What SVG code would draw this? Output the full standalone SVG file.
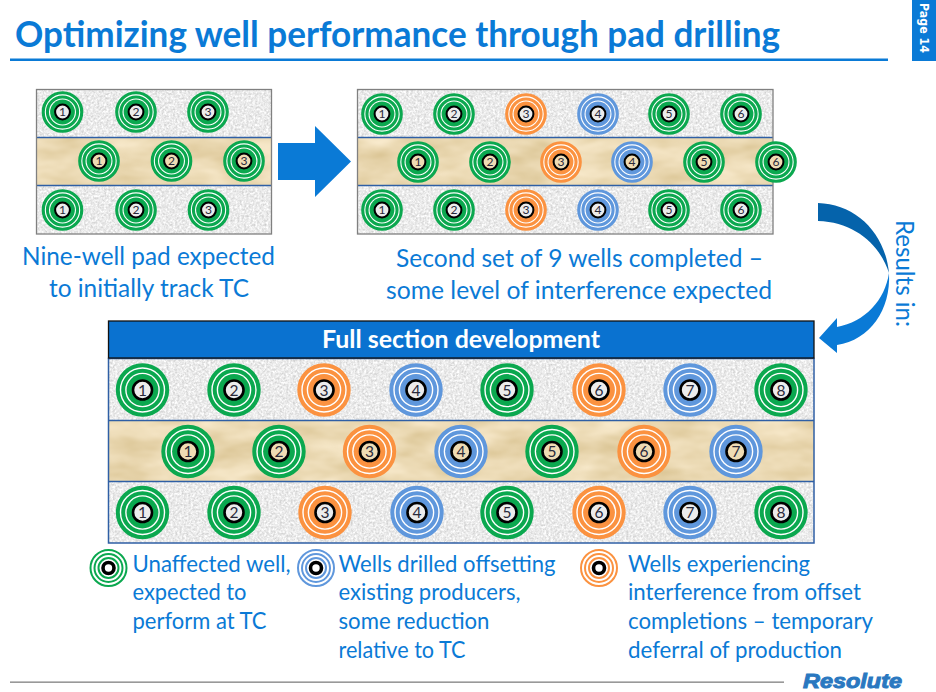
<svg xmlns="http://www.w3.org/2000/svg" xmlns:xlink="http://www.w3.org/1999/xlink" width="936" height="692" viewBox="0 0 936 692">
<style>
text{font-family:Lato,"Liberation Sans",sans-serif}
.b{fill:#0a7ad6}
.t{font-size:25px;fill:#0a7ad6}
.l{font-size:23px;fill:#0a7ad6}
.g{color:#0ba84f}.o{color:#fb9240}.u{color:#5f97dc}
.hs{fill:#ececec;stroke:#000;stroke-width:2.6}
.hd{fill:#efdcb4;stroke:#000;stroke-width:2.6}
.n{font-size:15.500px;fill:#2a2a3a;text-anchor:middle}
.s{filter:url(#granite)}.d{filter:url(#sand)}
.sep{stroke:#2f5fa5;stroke-width:1.4}
</style>
<defs>
<filter id="granite" x="0" y="0" width="100%" height="100%" color-interpolation-filters="sRGB"><feTurbulence type="fractalNoise" baseFrequency=".45" numOctaves="3" seed="4"/><feGaussianBlur stdDeviation=".5"/><feColorMatrix values=".3 0 0 0 .77 .3 0 0 0 .77 .3 0 0 0 .77 0 0 0 0 1"/></filter>
<filter id="sand" x="0" y="0" width="100%" height="100%" color-interpolation-filters="sRGB"><feTurbulence type="fractalNoise" baseFrequency=".02 .05" numOctaves="3" seed="7"/><feColorMatrix values=".16 0 0 0 .84 .2 0 0 0 .75 .3 0 0 0 .55 0 0 0 0 1"/></filter>
<g id="rings"><circle r="24.7" fill="#fff" stroke="currentColor" stroke-width="4"/><circle r="19.3" fill="none" stroke="currentColor" stroke-width="4"/><circle r="15.9" fill="currentColor"/></g>
<g id="lg"><circle r="18" fill="#fff" stroke="currentColor" stroke-width="2"/><circle r="14" fill="none" stroke="currentColor" stroke-width="2"/><circle r="10" fill="none" stroke="currentColor" stroke-width="2"/><circle r="5.500" fill="#fff" stroke="#000" stroke-width="3.600"/></g>
</defs>

<g id="title"><text x="15" y="47" font-size="36" font-weight="700" class="b" textLength="765" lengthAdjust="spacingAndGlyphs">Optimizing well performance through pad drilling</text><rect x="10" y="58.500" width="878" height="2.500" fill="#0a7ad6"/></g>
<g id="page"><rect x="912" y="0" width="24" height="61" fill="#0a7ad6"/><text transform="translate(919.500 3) rotate(90)" style="font-family:'DejaVu Sans',sans-serif" font-size="11.500" font-weight="700" fill="#fff" textLength="50" lengthAdjust="spacingAndGlyphs">Page 14</text></g>

<g id="panel-1">
<rect class="s" x="37" y="90" width="235" height="47"/><rect class="d" x="37" y="138" width="235" height="47"/><rect class="s" x="37" y="186" width="235" height="48"/>
<path class="sep" d="M37 137.500H272M37 185.500H272"/><rect x="36.500" y="89.500" width="235" height="144.500" fill="none" stroke="#808080" stroke-width="1.300"/>
</g>
<g id="panel-2">
<rect class="s" x="358" y="90" width="415" height="47"/><rect class="d" x="358" y="138" width="415" height="47"/><rect class="s" x="358" y="186" width="415" height="48"/>
<path class="sep" d="M358 137.500H773M358 185.500H773"/><rect x="357.500" y="89.500" width="415.500" height="144.500" fill="none" stroke="#808080" stroke-width="1.300"/>
</g>
<g id="panel-3">
<rect class="s" x="108" y="359" width="706" height="61"/><rect class="d" x="108" y="421" width="706" height="60"/><rect class="s" x="108" y="482" width="706" height="61"/>
<path class="sep" d="M108 420.500H814M108 481.500H814"/><rect x="108.500" y="358.500" width="705.500" height="184.500" fill="none" stroke="#2f5fa5" stroke-width="1.500"/>
</g>

<g id="header"><rect x="108.500" y="321" width="705.500" height="37" fill="#0a72d0" stroke="#111" stroke-width="1.300"/><text x="322" y="348" font-size="24" font-weight="700" fill="#fff" textLength="278" lengthAdjust="spacingAndGlyphs">Full section development</text></g>

<g id="p1-wells">
<g transform="translate(62.500 112) scale(.78)" class="g"><use href="#rings"/><circle r="9.500" class="hs"/><text y="5.500" class="n">1</text></g>
<g transform="translate(136 112) scale(.78)" class="g"><use href="#rings"/><circle r="9.500" class="hs"/><text y="5.500" class="n">2</text></g>
<g transform="translate(208 112) scale(.78)" class="g"><use href="#rings"/><circle r="9.500" class="hs"/><text y="5.500" class="n">3</text></g>
<g transform="translate(99 161) scale(.78)" class="g"><use href="#rings"/><circle r="9.500" class="hd"/><text y="5.500" class="n">1</text></g>
<g transform="translate(171.500 161) scale(.78)" class="g"><use href="#rings"/><circle r="9.500" class="hd"/><text y="5.500" class="n">2</text></g>
<g transform="translate(244 161) scale(.78)" class="g"><use href="#rings"/><circle r="9.500" class="hd"/><text y="5.500" class="n">3</text></g>
<g transform="translate(62.500 210) scale(.78)" class="g"><use href="#rings"/><circle r="9.500" class="hs"/><text y="5.500" class="n">1</text></g>
<g transform="translate(136 210) scale(.78)" class="g"><use href="#rings"/><circle r="9.500" class="hs"/><text y="5.500" class="n">2</text></g>
<g transform="translate(208.500 210) scale(.78)" class="g"><use href="#rings"/><circle r="9.500" class="hs"/><text y="5.500" class="n">3</text></g>
</g>

<g id="p2-wells">
<g transform="translate(382 114) scale(.78)" class="g"><use href="#rings"/><circle r="9.500" class="hs"/><text y="5.500" class="n">1</text></g>
<g transform="translate(454 114) scale(.78)" class="g"><use href="#rings"/><circle r="9.500" class="hs"/><text y="5.500" class="n">2</text></g>
<g transform="translate(526 114) scale(.78)" class="o"><use href="#rings"/><circle r="9.500" class="hs"/><text y="5.500" class="n">3</text></g>
<g transform="translate(598 114) scale(.78)" class="u"><use href="#rings"/><circle r="9.500" class="hs"/><text y="5.500" class="n">4</text></g>
<g transform="translate(669 114) scale(.78)" class="g"><use href="#rings"/><circle r="9.500" class="hs"/><text y="5.500" class="n">5</text></g>
<g transform="translate(741 114) scale(.78)" class="g"><use href="#rings"/><circle r="9.500" class="hs"/><text y="5.500" class="n">6</text></g>
<g transform="translate(418 162) scale(.78)" class="g"><use href="#rings"/><circle r="9.500" class="hd"/><text y="5.500" class="n">1</text></g>
<g transform="translate(490 162) scale(.78)" class="g"><use href="#rings"/><circle r="9.500" class="hd"/><text y="5.500" class="n">2</text></g>
<g transform="translate(561 162) scale(.78)" class="o"><use href="#rings"/><circle r="9.500" class="hd"/><text y="5.500" class="n">3</text></g>
<g transform="translate(632 162) scale(.78)" class="u"><use href="#rings"/><circle r="9.500" class="hd"/><text y="5.500" class="n">4</text></g>
<g transform="translate(704 162) scale(.78)" class="g"><use href="#rings"/><circle r="9.500" class="hd"/><text y="5.500" class="n">5</text></g>
<g transform="translate(776 162) scale(.78)" class="g"><use href="#rings"/><circle r="9.500" class="hd"/><text y="5.500" class="n">6</text></g>
<g transform="translate(382 210) scale(.78)" class="g"><use href="#rings"/><circle r="9.500" class="hs"/><text y="5.500" class="n">1</text></g>
<g transform="translate(454 210) scale(.78)" class="g"><use href="#rings"/><circle r="9.500" class="hs"/><text y="5.500" class="n">2</text></g>
<g transform="translate(526 210) scale(.78)" class="o"><use href="#rings"/><circle r="9.500" class="hs"/><text y="5.500" class="n">3</text></g>
<g transform="translate(598 210) scale(.78)" class="u"><use href="#rings"/><circle r="9.500" class="hs"/><text y="5.500" class="n">4</text></g>
<g transform="translate(669 210) scale(.78)" class="g"><use href="#rings"/><circle r="9.500" class="hs"/><text y="5.500" class="n">5</text></g>
<g transform="translate(741 210) scale(.78)" class="g"><use href="#rings"/><circle r="9.500" class="hs"/><text y="5.500" class="n">6</text></g>
</g>

<g id="p3-wells">
<g transform="translate(142.500 390)" class="g"><use href="#rings"/><circle r="9.500" class="hs"/><text y="5.500" class="n">1</text></g>
<g transform="translate(234 390)" class="g"><use href="#rings"/><circle r="9.500" class="hs"/><text y="5.500" class="n">2</text></g>
<g transform="translate(324 390)" class="o"><use href="#rings"/><circle r="9.500" class="hs"/><text y="5.500" class="n">3</text></g>
<g transform="translate(416 390)" class="u"><use href="#rings"/><circle r="9.500" class="hs"/><text y="5.500" class="n">4</text></g>
<g transform="translate(507 390)" class="g"><use href="#rings"/><circle r="9.500" class="hs"/><text y="5.500" class="n">5</text></g>
<g transform="translate(599 390)" class="o"><use href="#rings"/><circle r="9.500" class="hs"/><text y="5.500" class="n">6</text></g>
<g transform="translate(690 390)" class="u"><use href="#rings"/><circle r="9.500" class="hs"/><text y="5.500" class="n">7</text></g>
<g transform="translate(781 390)" class="g"><use href="#rings"/><circle r="9.500" class="hs"/><text y="5.500" class="n">8</text></g>
<g transform="translate(188 451.500)" class="g"><use href="#rings"/><circle r="9.500" class="hd"/><text y="5.500" class="n">1</text></g>
<g transform="translate(279 451.500)" class="g"><use href="#rings"/><circle r="9.500" class="hd"/><text y="5.500" class="n">2</text></g>
<g transform="translate(369.500 451.500)" class="o"><use href="#rings"/><circle r="9.500" class="hd"/><text y="5.500" class="n">3</text></g>
<g transform="translate(461 451.500)" class="u"><use href="#rings"/><circle r="9.500" class="hd"/><text y="5.500" class="n">4</text></g>
<g transform="translate(552 451.500)" class="g"><use href="#rings"/><circle r="9.500" class="hd"/><text y="5.500" class="n">5</text></g>
<g transform="translate(644 451.500)" class="o"><use href="#rings"/><circle r="9.500" class="hd"/><text y="5.500" class="n">6</text></g>
<g transform="translate(736 451.500)" class="u"><use href="#rings"/><circle r="9.500" class="hd"/><text y="5.500" class="n">7</text></g>
<g transform="translate(142.500 512.500)" class="g"><use href="#rings"/><circle r="9.500" class="hs"/><text y="5.500" class="n">1</text></g>
<g transform="translate(234 512.500)" class="g"><use href="#rings"/><circle r="9.500" class="hs"/><text y="5.500" class="n">2</text></g>
<g transform="translate(325 512.500)" class="o"><use href="#rings"/><circle r="9.500" class="hs"/><text y="5.500" class="n">3</text></g>
<g transform="translate(417 512.500)" class="u"><use href="#rings"/><circle r="9.500" class="hs"/><text y="5.500" class="n">4</text></g>
<g transform="translate(507 512.500)" class="g"><use href="#rings"/><circle r="9.500" class="hs"/><text y="5.500" class="n">5</text></g>
<g transform="translate(599 512.500)" class="o"><use href="#rings"/><circle r="9.500" class="hs"/><text y="5.500" class="n">6</text></g>
<g transform="translate(690 512.500)" class="u"><use href="#rings"/><circle r="9.500" class="hs"/><text y="5.500" class="n">7</text></g>
<g transform="translate(781 512.500)" class="g"><use href="#rings"/><circle r="9.500" class="hs"/><text y="5.500" class="n">8</text></g>
</g>

<g id="connectors">
<path d="M278 143H315V126L351 161.500L315 197V180H278Z" fill="#0a7ad6"/>
<path d="M818 203C855 204 885 232 889 273C880 245 855 222 818 221Z" fill="#0563ab"/>
<path d="M889 273C891 310 870 340 837 345V353L819 338L837 318V327C865 322 885 300 889 273Z" fill="#0a7ad6"/>
</g>

<g id="labels">
<text class="t" x="22" y="264.500" textLength="253" lengthAdjust="spacingAndGlyphs">Nine-well pad expected</text>
<text class="t" x="49" y="296.500" textLength="200" lengthAdjust="spacingAndGlyphs">to initially track TC</text>
<text class="t" x="396" y="266.500" textLength="367" lengthAdjust="spacingAndGlyphs">Second set of 9 wells completed –</text>
<text class="t" x="386" y="298.500" textLength="386" lengthAdjust="spacingAndGlyphs">some level of interference expected</text>
<text class="t" transform="translate(896 220) rotate(90)" textLength="107" lengthAdjust="spacingAndGlyphs">Results in:</text>
</g>

<g id="legend-unaffected"><use href="#lg" x="108.500" y="568" class="g"/>
<text class="l" x="132.500" y="572" textLength="158" lengthAdjust="spacingAndGlyphs">Unaffected well,</text>
<text class="l" x="132.500" y="600" textLength="114" lengthAdjust="spacingAndGlyphs">expected to</text>
<text class="l" x="132.500" y="629" textLength="134" lengthAdjust="spacingAndGlyphs">perform at TC</text></g>
<g id="legend-offset"><use href="#lg" x="316" y="568" class="u"/>
<text class="l" x="338.500" y="572" textLength="217" lengthAdjust="spacingAndGlyphs">Wells drilled offsetting</text>
<text class="l" x="338.500" y="600" textLength="182" lengthAdjust="spacingAndGlyphs">existing producers,</text>
<text class="l" x="338.500" y="629" textLength="151" lengthAdjust="spacingAndGlyphs">some reduction</text>
<text class="l" x="338.500" y="658" textLength="127" lengthAdjust="spacingAndGlyphs">relative to TC</text></g>
<g id="legend-interference"><use href="#lg" x="599" y="568" class="o"/>
<text class="l" x="628" y="572" textLength="182" lengthAdjust="spacingAndGlyphs">Wells experiencing</text>
<text class="l" x="628" y="600" textLength="233" lengthAdjust="spacingAndGlyphs">interference from offset</text>
<text class="l" x="628" y="629" textLength="245" lengthAdjust="spacingAndGlyphs">completions – temporary</text>
<text class="l" x="628" y="658" textLength="214" lengthAdjust="spacingAndGlyphs">deferral of production</text></g>

<g id="footer"><rect x="10" y="681.500" width="774" height="1.300" fill="#808080"/>
<text x="803" y="688" font-size="21" font-weight="700" font-style="italic" fill="#2a78c0" stroke="#2a78c0" stroke-width="1" style="font-family:'Liberation Sans',sans-serif" textLength="99" lengthAdjust="spacingAndGlyphs">Resolute</text></g>
</svg>
